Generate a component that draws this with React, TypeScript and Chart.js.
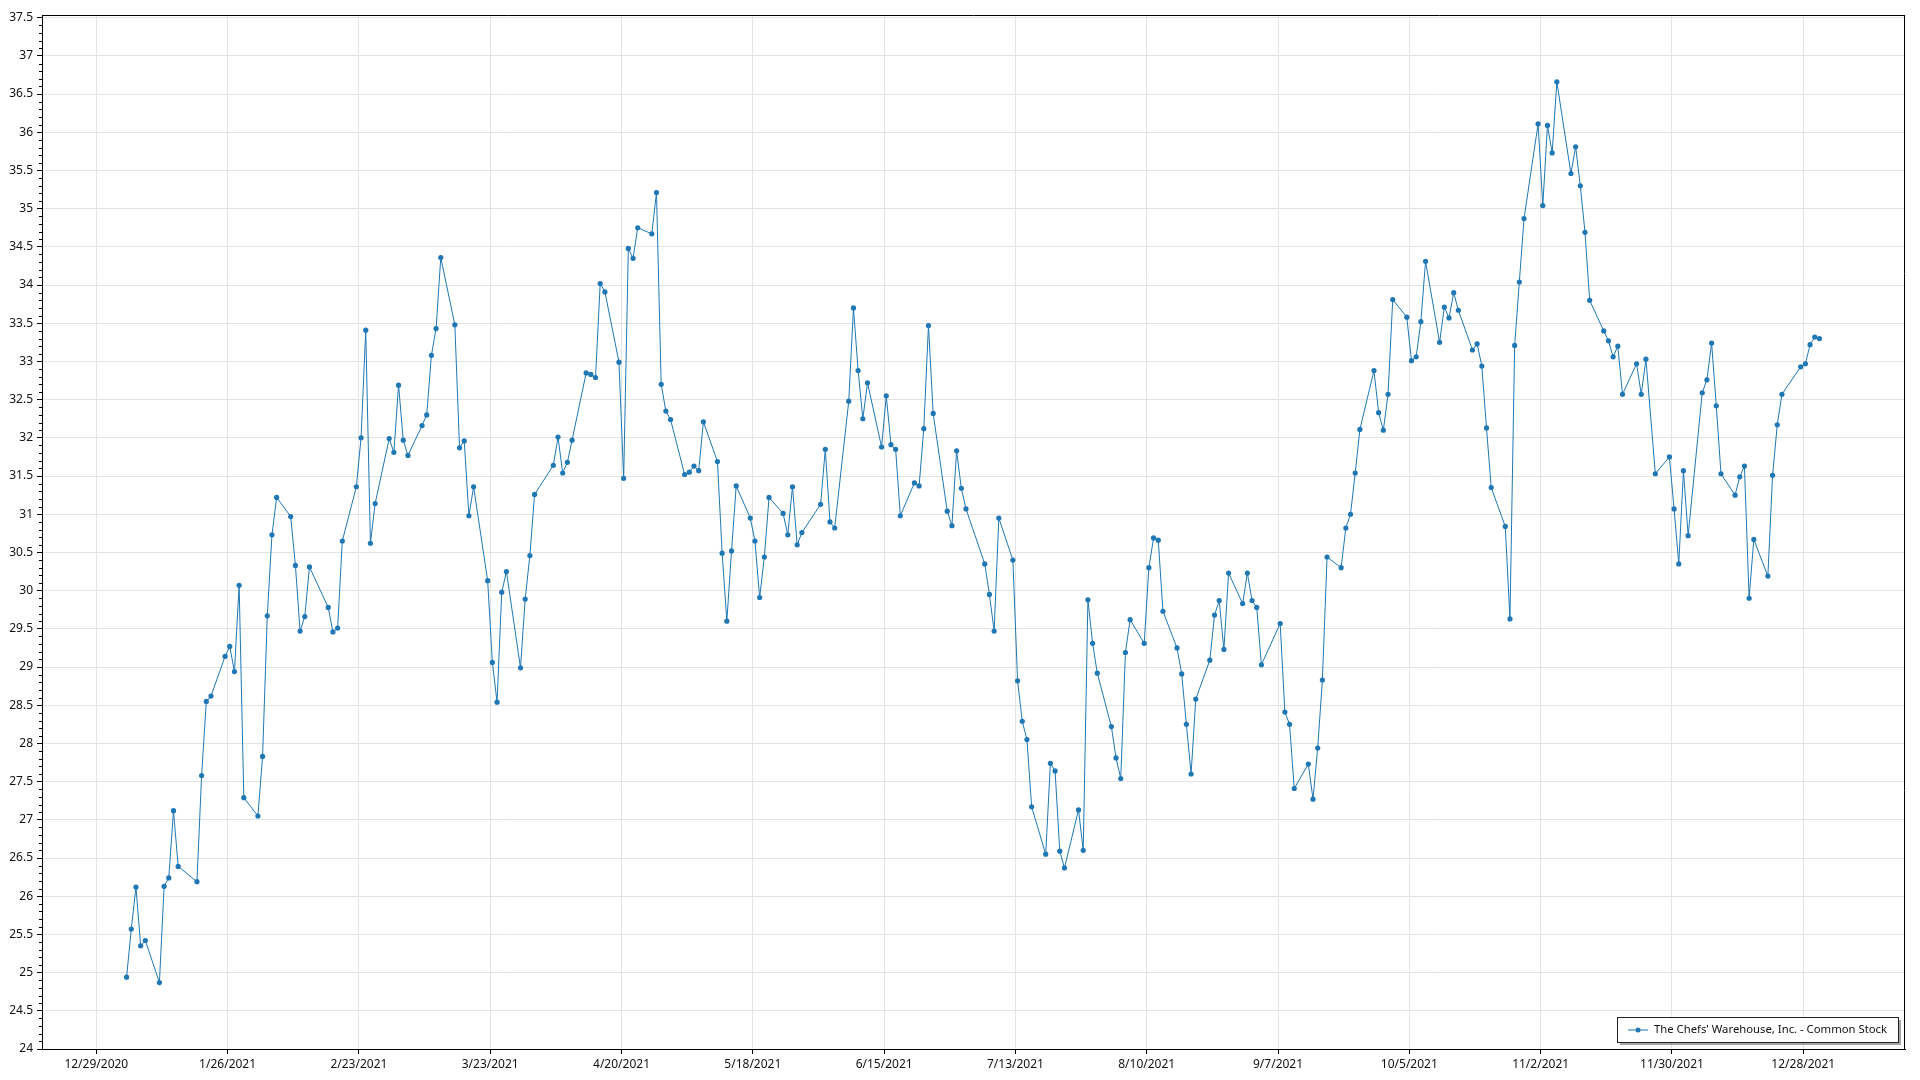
import React, { useEffect, useRef } from 'react';
import { Chart, registerables } from 'chart.js';

Chart.register(...registerables);

const SERIES_LABEL = "The Chefs' Warehouse, Inc. - Common Stock";
const SERIES_COLOR = '#1f77b4';
const FONT_FAMILY = '"Noto Sans", "Open Sans", sans-serif';

const xTickLabels = [
  '12/29/2020', '1/26/2021', '2/23/2021', '3/23/2021', '4/20/2021', '5/18/2021', '6/15/2021',
  '7/13/2021', '8/10/2021', '9/7/2021', '10/5/2021', '11/2/2021', '11/30/2021', '12/28/2021',
];

const yTickValues = [
  24, 24.5, 25, 25.5, 26, 26.5, 27, 27.5, 28, 28.5, 29, 29.5, 30, 30.5,
  31, 31.5, 32, 32.5, 33, 33.5, 34, 34.5, 35, 35.5, 36, 36.5, 37, 37.5,
];

// Trading days of 2021, by month (day of month)
const tradingDaysByMonth = [
  [4, 5, 6, 7, 8, 11, 12, 13, 14, 15, 19, 20, 21, 22, 25, 26, 27, 28, 29],
  [1, 2, 3, 4, 5, 8, 9, 10, 11, 12, 16, 17, 18, 19, 22, 23, 24, 25, 26],
  [1, 2, 3, 4, 5, 8, 9, 10, 11, 12, 15, 16, 17, 18, 19, 22, 23, 24, 25, 26, 29, 30, 31],
  [1, 5, 6, 7, 8, 9, 12, 13, 14, 15, 16, 19, 20, 21, 22, 23, 26, 27, 28, 29, 30],
  [3, 4, 5, 6, 7, 10, 11, 12, 13, 14, 17, 18, 19, 20, 21, 24, 25, 26, 27, 28],
  [1, 2, 3, 4, 7, 8, 9, 10, 11, 14, 15, 16, 17, 18, 21, 22, 23, 24, 25, 28, 29, 30],
  [1, 2, 6, 7, 8, 9, 12, 13, 14, 15, 16, 19, 20, 21, 22, 23, 26, 27, 28, 29, 30],
  [2, 3, 4, 5, 6, 9, 10, 11, 12, 13, 16, 17, 18, 19, 20, 23, 24, 25, 26, 27, 30, 31],
  [1, 2, 3, 7, 8, 9, 10, 13, 14, 15, 16, 17, 20, 21, 22, 23, 24, 27, 28, 29, 30],
  [1, 4, 5, 6, 7, 8, 11, 12, 13, 14, 15, 18, 19, 20, 21, 22, 25, 26, 27, 28, 29],
  [1, 2, 3, 4, 5, 8, 9, 10, 11, 12, 15, 16, 17, 18, 19, 22, 23, 24, 26, 29, 30],
  [1, 2, 3, 6, 7, 8, 9, 10, 13, 14, 15, 16, 17, 20, 21, 22, 23, 27, 28, 29, 30, 31],
];

const closeJan = [24.94, 25.57, 26.12, 25.35, 25.42, 24.87, 26.13, 26.24, 27.12, 26.39, 26.19, 27.58, 28.55, 28.62, 29.14, 29.27, 28.94, 30.07, 27.29];
const closeFeb = [27.05, 27.83, 29.67, 30.73, 31.22, 30.97, 30.33, 29.47, 29.66, 30.31, 29.78, 29.46, 29.51, 30.65, 31.36, 32.0, 33.41, 30.62, 31.14];
const closeMar = [31.99, 31.81, 32.69, 31.97, 31.77, 32.16, 32.3, 33.08, 33.43, 34.36, 33.48, 31.87, 31.96, 30.98, 31.36, 30.13, 29.06, 28.54, 29.98, 30.25, 28.99, 29.89, 30.46];
const closeApr = [31.26, 31.64, 32.01, 31.54, 31.68, 31.97, 32.85, 32.83, 32.79, 34.02, 33.91, 32.99, 31.47, 34.48, 34.35, 34.75, 34.67, 35.21, 32.7, 32.35, 32.24];
const closeMay = [31.52, 31.55, 31.63, 31.57, 32.21, 31.69, 30.49, 29.6, 30.52, 31.37, 30.95, 30.65, 29.91, 30.44, 31.22, 31.01, 30.73, 31.36, 30.6, 30.76];
const closeJun = [31.13, 31.85, 30.9, 30.82, 32.48, 33.7, 32.88, 32.25, 32.72, 31.88, 32.55, 31.91, 31.85, 30.98, 31.41, 31.37, 32.12, 33.47, 32.32, 31.04, 30.85, 31.83];
const closeJul = [31.34, 31.07, 30.35, 29.95, 29.47, 30.95, 30.4, 28.82, 28.29, 28.05, 27.17, 26.55, 27.74, 27.64, 26.59, 26.37, 27.13, 26.6, 29.88, 29.31, 28.92];
const closeAug = [28.22, 27.81, 27.54, 29.19, 29.62, 29.31, 30.3, 30.69, 30.66, 29.73, 29.25, 28.91, 28.25, 27.6, 28.58, 29.09, 29.68, 29.87, 29.23, 30.23, 29.83, 30.23];
const closeSep = [29.87, 29.78, 29.03, 29.57, 28.41, 28.25, 27.41, 27.73, 27.27, 27.94, 28.83, 30.44, 30.3, 30.82, 31.0, 31.54, 32.11, 32.88, 32.33, 32.1, 32.57];
const closeOct = [33.81, 33.58, 33.01, 33.06, 33.52, 34.31, 33.25, 33.71, 33.57, 33.9, 33.67, 33.15, 33.23, 32.94, 32.13, 31.35, 30.84, 29.63, 33.21, 34.04, 34.87];
const closeNov = [36.11, 35.04, 36.09, 35.73, 36.66, 35.46, 35.81, 35.3, 34.69, 33.8, 33.4, 33.27, 33.06, 33.2, 32.57, 32.97, 32.57, 33.03, 31.53, 31.75, 31.07];
const closeDec = [30.35, 31.57, 30.72, 32.59, 32.76, 33.24, 32.42, 31.53, 31.25, 31.49, 31.63, 29.9, 30.67, 30.19, 31.51, 32.17, 32.57, 32.93, 32.97, 33.22, 33.32, 33.3];

const closeByMonth = [closeJan, closeFeb, closeMar, closeApr, closeMay, closeJun, closeJul, closeAug, closeSep, closeOct, closeNov, closeDec];

// time of day of each close sample (hours, UTC)
const SAMPLE_HOUR = 11;

const DAY_MS = 86400000;
function parseMDY(s: string): number {
  const [m, d, y] = s.split('/').map(Number);
  return Date.UTC(y, m - 1, d);
}
const xTickValues = xTickLabels.map(parseMDY);
const X_MIN = xTickValues[0] - 11.58 * DAY_MS;
const X_MAX = xTickValues[0] + 385.7 * DAY_MS;

const points: { x: number; y: number }[] = [];
tradingDaysByMonth.forEach((days, m) => {
  days.forEach((d, i) => {
    points.push({ x: Date.UTC(2021, m, d, SAMPLE_HOUR), y: closeByMonth[m][i] });
  });
});

const LEGEND_TEXT_WIDTH = 233;

const framePlugin = {
  id: 'frameAndLegend',
  afterDraw(chart: any) {
    const { ctx, chartArea: a, scales } = chart;
    const ys = scales.y;
    ctx.save();
    // top and right border
    ctx.strokeStyle = '#000';
    ctx.lineWidth = 1;
    ctx.beginPath();
    ctx.moveTo(a.left, Math.round(a.top) + 0.5);
    ctx.lineTo(a.right, Math.round(a.top) + 0.5);
    ctx.moveTo(Math.round(a.right) - 0.5, a.top);
    ctx.lineTo(Math.round(a.right) - 0.5, a.bottom);
    ctx.stroke();
    // minor ticks on y axis
    ctx.beginPath();
    for (let i = 0; i < yTickValues.length - 1; i++) {
      for (let k = 1; k < 5; k++) {
        const v = yTickValues[i] + ((yTickValues[i + 1] - yTickValues[i]) * k) / 5;
        const py = Math.round(ys.getPixelForValue(v)) + 0.5;
        ctx.moveTo(a.left - 3, py);
        ctx.lineTo(a.left, py);
      }
    }
    ctx.stroke();

    // legend box
    ctx.font = `12px ${FONT_FAMILY}`;
    const tw12 = ctx.measureText(SERIES_LABEL).width;
    const size = Math.min(12, (12 * LEGEND_TEXT_WIDTH) / tw12);
    ctx.font = `${size.toFixed(2)}px ${FONT_FAMILY}`;
    const tw = ctx.measureText(SERIES_LABEL).width;
    const h = 25;
    const w = Math.round(11 + 20 + 6 + tw + 11);
    const rx = Math.round(a.right) - 7;
    const by = Math.round(a.bottom) - 7;
    const lx = rx - w;
    const ty = by - h;
    ctx.fillStyle = 'rgba(0,0,0,0.35)';
    ctx.fillRect(lx + 3, ty + 3, w, h);
    ctx.fillStyle = '#ffffff';
    ctx.fillRect(lx, ty, w, h);
    ctx.strokeStyle = '#222';
    ctx.strokeRect(lx + 0.5, ty + 0.5, w, h);
    const cy = ty + h / 2 + 0.5;
    ctx.strokeStyle = SERIES_COLOR;
    ctx.beginPath();
    ctx.moveTo(lx + 11, cy);
    ctx.lineTo(lx + 31, cy);
    ctx.stroke();
    ctx.fillStyle = SERIES_COLOR;
    ctx.beginPath();
    ctx.arc(lx + 21, cy, 2.5, 0, Math.PI * 2);
    ctx.fill();
    ctx.fillStyle = '#111';
    ctx.textBaseline = 'middle';
    ctx.textAlign = 'left';
    ctx.fillText(SERIES_LABEL, lx + 37, cy);
    ctx.restore();
  },
};

export default function App() {
  const canvasRef = useRef<HTMLCanvasElement | null>(null);

  useEffect(() => {
    document.body.style.margin = '0';
    document.body.style.background = '#ffffff';
    const canvas = canvasRef.current;
    if (!canvas) return;
    const tickFont = { family: FONT_FAMILY, size: 12 };
    const chart = new Chart(canvas, {
      type: 'line',
      data: {
        datasets: [
          {
            label: SERIES_LABEL,
            data: points,
            borderColor: SERIES_COLOR,
            backgroundColor: SERIES_COLOR,
            borderWidth: 1,
            pointRadius: 2.6,
            pointBorderWidth: 0,
            pointBackgroundColor: SERIES_COLOR,
            tension: 0,
            fill: false,
          },
        ],
      },
      options: {
        responsive: false,
        animation: false,
        devicePixelRatio: 1,
        layout: { padding: { top: 15, right: 15, left: 0, bottom: 0 } },
        plugins: {
          legend: { display: false },
          tooltip: { enabled: false },
        },
        scales: {
          x: {
            type: 'linear',
            min: X_MIN,
            max: X_MAX,
            afterBuildTicks: (s: any) => {
              s.ticks = xTickValues.map((v) => ({ value: v }));
            },
            afterFit: (s: any) => {
              s.height = 31;
            },
            ticks: {
              autoSkip: false,
              maxRotation: 0,
              minRotation: 0,
              padding: 3,
              color: '#111',
              font: tickFont,
              callback: (_v: any, i: number) => xTickLabels[i],
            },
            grid: { color: '#e4e4e4', tickColor: '#000', tickLength: 5, drawTicks: true },
            border: { display: true, color: '#000', width: 1 },
          },
          y: {
            type: 'linear',
            min: 24,
            max: 37.535,
            afterBuildTicks: (s: any) => {
              s.ticks = yTickValues.map((v) => ({ value: v }));
            },
            afterFit: (s: any) => {
              s.width = 42;
            },
            ticks: {
              padding: 4,
              color: '#111',
              font: tickFont,
              callback: (v: any) => String(v),
            },
            grid: { color: '#e4e4e4', tickColor: '#000', tickLength: 5, drawTicks: true },
            border: { display: true, color: '#000', width: 1 },
          },
        },
      },
      plugins: [framePlugin],
    } as any);
    return () => chart.destroy();
  }, []);

  return (
    <div style={{ width: 1920, height: 1080, background: '#fff' }}>
      <canvas ref={canvasRef} width={1920} height={1080} style={{ display: 'block' }} />
    </div>
  );
}
